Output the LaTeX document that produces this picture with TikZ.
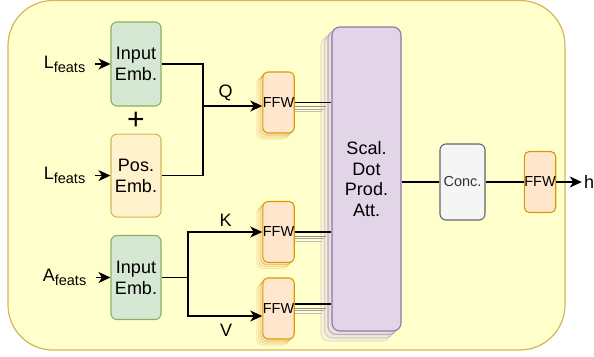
\documentclass[tikz,border=0pt]{standalone}
\usepackage{fontspec}
\setmainfont{Liberation Sans}
\usetikzlibrary{positioning,arrows.meta}

\definecolor{bgfill}{HTML}{FFFFCC}
\definecolor{bgdraw}{HTML}{D6B656}
\definecolor{embfill}{HTML}{D5E8D4}
\definecolor{embdraw}{HTML}{82B366}
\definecolor{posfill}{HTML}{FFF2CC}
\definecolor{posdraw}{HTML}{D6B656}
\definecolor{ffwfill}{HTML}{FFE6CC}
\definecolor{ffwdraw}{HTML}{D79B00}
\definecolor{attfill}{HTML}{E1D5E7}
\definecolor{attdraw}{HTML}{9673A6}
\definecolor{concfill}{HTML}{F5F5F5}
\definecolor{concdraw}{HTML}{666666}
\definecolor{conctext}{HTML}{333333}

\newcommand{\featsub}{\raisebox{-4pt}{\fontsize{14.5}{15}\selectfont feats}}

\begin{document}
\begin{tikzpicture}[
        x=1pt, y=-1pt,
        every node/.style={font=\fontsize{18}{21}\selectfont},
        frame/.style={draw=bgdraw, fill=bgfill, line width=1.2pt, rounded corners=45pt,
                      minimum width=557pt, minimum height=349.5pt},
        block/.style={rounded corners=6pt, align=center, line width=1.1pt, inner sep=0pt,
                      minimum width=50pt, minimum height=84pt},
        emb/.style={block, draw=embdraw, fill=embfill},
        posemb/.style={block, draw=posdraw, fill=posfill, minimum height=83pt},
        ffw/.style={block, draw=ffwdraw, fill=ffwfill, rounded corners=5pt,
                    minimum width=31pt, minimum height=61pt,
                    font=\fontsize{14.5}{17}\selectfont},
        ffwstack/.style={ffw,
            preaction={draw=ffwdraw, fill=ffwfill, opacity=.2, transform canvas={shift={(-6pt,-6pt)}}},
            preaction={draw=ffwdraw, fill=ffwfill, opacity=.3, transform canvas={shift={(-4pt,-4pt)}}},
            preaction={draw=ffwdraw, fill=ffwfill, opacity=.45, transform canvas={shift={(-2pt,-2pt)}}}},
        attstack/.style={block, draw=attdraw, fill=attfill, rounded corners=8pt,
                         minimum width=69pt, minimum height=304pt, font=\fontsize{18}{20.5}\selectfont,
            preaction={draw=attdraw, fill=attfill, opacity=.2, transform canvas={shift={(-11pt,-10pt)}}},
            preaction={draw=attdraw, fill=attfill, opacity=.3, transform canvas={shift={(-7.5pt,-7pt)}}},
            preaction={draw=attdraw, fill=attfill, opacity=.5, transform canvas={shift={(-4pt,-3.5pt)}}}},
        conc/.style={block, draw=concdraw, fill=concfill, text=conctext, rounded corners=6pt,
                     minimum width=45pt, minimum height=76pt, font=\fontsize{14.5}{17}\selectfont},
        feat/.style={inner sep=0pt},
        wire/.style={line width=1.2pt},
        arrow/.style={wire, -{Stealth[length=12pt, width=11pt, inset=3.5pt]}},
        fan/.style={wire,
            preaction={draw=black!25, line width=.9pt, shorten >=9pt, transform canvas={shift={(0pt,-9pt)}}},
            preaction={draw=black!35, line width=.9pt, shorten >=7pt, transform canvas={shift={(0pt,-6.5pt)}}},
            preaction={draw=black!45, line width=.9pt, shorten >=5pt, transform canvas={shift={(0pt,-4pt)}}}}
    ]
    \useasboundingbox (0,0) rectangle (594,356);
    \node[frame] (frame) at (286.5,175.25) {};

    % embeddings
    \node[emb] (inq) at (136,64) {Input\\Emb.};
    \node[posemb, below=27pt of inq] (pos) {Pos.\\Emb.};
    \node[inner sep=0pt, font=\fontsize{30}{30}\selectfont] (plus) at (136,121) {+};
    \node[emb] (ina) at (136,277.5) {Input\\Emb.};

    \node[feat, left=25pt of inq] (lq) {L\featsub};
    \node[feat, left=25pt of pos] (lp) {L\featsub};
    \node[feat, left=24pt of ina] (la) {A\featsub};

    % projections
    \node[ffwstack] (ffwq) at (278.5,102.5) {FFW};
    \node[ffwstack] (ffwk) at (278.5,232) {FFW};
    \node[ffwstack] (ffwv) at (278.5,308.5) {FFW};
    \node (q) at (225.5,93) {Q};
    \node (k) at (225.5,220) {K};
    \node (v) at (226,330) {V};

    \node[attstack] (att) at (366.5,179) {Scal.\\Dot\\Prod.\\Att.};
    \node[conc] (conc) at (462.5,182) {Conc.};
    \node[ffw] (ffwo) at (540,182) {FFW};
    \node[feat, inner xsep=2pt] (h) at (589,182) {h};

    \coordinate (jq) at (203,106);
    \coordinate (jkv) at (188,277.5);
    \coordinate (vout) at ([yshift=4.5pt]ffwv.east);

    \draw[arrow, shorten <=10pt] (lq) -- (inq);
    \draw[arrow, shorten <=10pt] (lp) -- (pos);
    \draw[arrow, shorten <=10pt] (la) -- (ina);

    \draw[wire] (inq.east) -| (jq);
    \draw[wire] (pos.east) -| (jq);
    \draw[arrow] (jq) -- (jq -| ffwq.west);
    \draw[wire] (ina.east) -- (jkv);
    \draw[arrow] (jkv) |- (ffwk.west);
    \draw[arrow] (jkv) |- ([yshift=-7.5pt]ffwv.west);

    \draw[fan] (ffwq.east) -- (ffwq.east -| att.west);
    \draw[fan] (ffwk.east) -- (ffwk.east -| att.west);
    \draw[fan] (vout) -- (vout -| att.west);

    \draw[wire] (conc.west -| att.east) -- (conc.west);
    \draw[wire] (conc) -- (ffwo);
    \draw[arrow] (ffwo) -- (h);
\end{tikzpicture}
\end{document}
